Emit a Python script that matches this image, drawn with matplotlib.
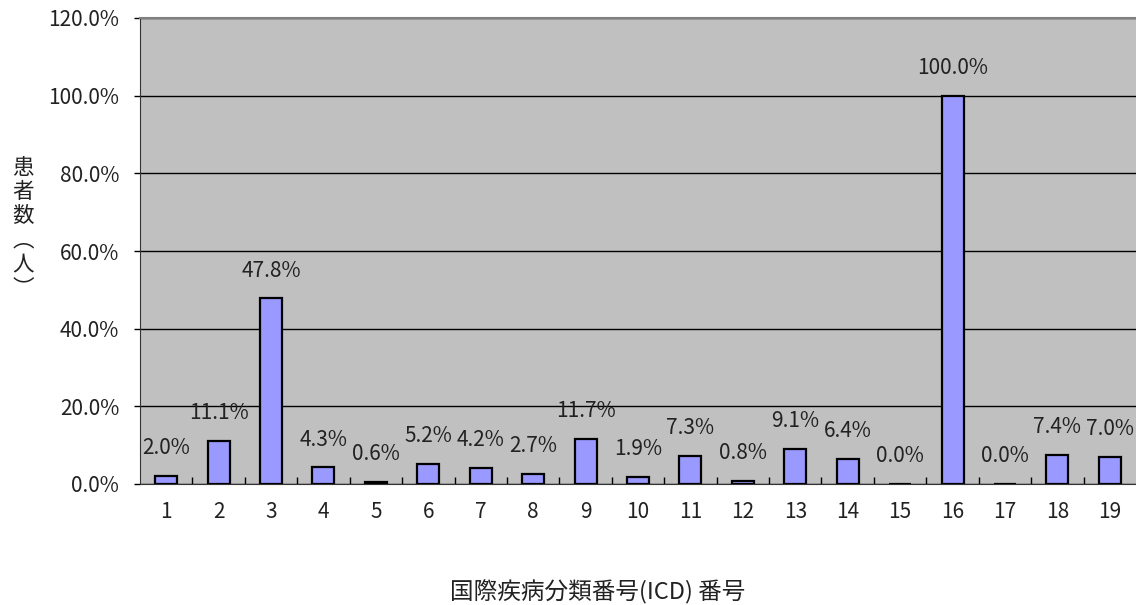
import matplotlib
matplotlib.use("Agg")
import matplotlib.pyplot as plt
import numpy as np
from matplotlib.ticker import FixedLocator, FuncFormatter

categories = [str(i) for i in range(1, 20)]
values = [2.0, 11.1, 47.8, 4.3, 0.6, 5.2, 4.2, 2.7, 11.7, 1.9, 7.3, 0.8, 9.1, 6.4, 0.0, 100.0, 0.0, 7.4, 7.0]
yticks = [0, 20, 40, 60, 80, 100, 120]

plt.rcParams['font.family'] = ['Noto Sans CJK JP', 'DejaVu Sans']

fig = plt.figure(figsize=(11.36, 6.05), dpi=100)
ax = fig.add_axes([140/1136, 121/605, 1 - 140/1136, (484-18)/605])
ax.set_facecolor('#C0C0C0')

x = np.arange(len(categories))
ax.bar(x, values, width=0.42, color='#9999FF', edgecolor='black', linewidth=1.6, zorder=3)
for xi, v in zip(x, values):
    ax.annotate(f"{v:.1f}%", (xi, v), xytext=(0, 20), textcoords='offset points',
                ha='center', va='center', fontsize=15, color='#222222', zorder=4)

ax.set_xlim(-0.5, len(categories) - 0.5)
ax.set_ylim(0, 120)
ax.set_yticks(yticks)
ax.yaxis.set_major_formatter(FuncFormatter(lambda v, p: f"{v:.1f}%"))
ax.set_xticks(x)
ax.set_xticklabels(categories)
ax.xaxis.set_minor_locator(FixedLocator(np.arange(0.5, len(categories) - 0.5, 1)))
ax.tick_params(axis='x', which='major', length=0, pad=12, labelsize=15, labelcolor='#222222')
ax.tick_params(axis='x', which='minor', direction='in', length=5, width=1, color='black')
ax.tick_params(axis='y', which='major', direction='out', length=4, width=1, pad=11, labelsize=15, labelcolor='#222222')

ax.grid(axis='y', color='black', linewidth=1, zorder=1)
ax.set_axisbelow(True)
ax.spines['top'].set_color('#808080')
ax.spines['top'].set_linewidth(1.5)
ax.spines['right'].set_visible(False)
ax.spines['left'].set_color('#333333')
ax.spines['bottom'].set_color('#333333')

fig.text(23/1136, 1 - 228/605, "患\n者\n数\n︵\n人\n︶", ha='center', va='center',
         fontsize=15.5, linespacing=1.12, color='#222222')
fig.text(598/1136, 1 - 592/605, "国際疾病分類番号(ICD) 番号", ha='center', va='center',
         fontsize=17, color='#222222')

fig.savefig('out.png', dpi=100)
